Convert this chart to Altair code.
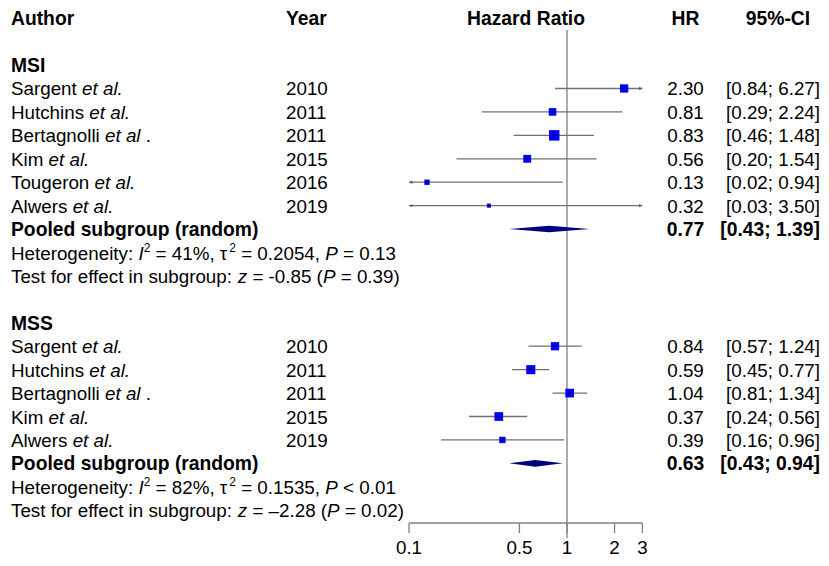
import numpy as np
import pandas as pd
import altair as alt

# ---------------- data ----------------
msi_authors = ["Sargent", "Hutchins", "Bertagnolli", "Kim", "Tougeron", "Alwers"]
msi_years = [2010, 2011, 2011, 2015, 2016, 2019]
msi_hr = [2.30, 0.81, 0.83, 0.56, 0.13, 0.32]
msi_lo = [0.84, 0.29, 0.46, 0.20, 0.02, 0.03]
msi_hi = [6.27, 2.24, 1.48, 1.54, 0.94, 3.50]
msi_w = [20.1, 16.7, 32.0, 18.0, 8.5, 4.8]

mss_authors = ["Sargent", "Hutchins", "Bertagnolli", "Kim", "Alwers"]
mss_years = [2010, 2011, 2011, 2015, 2019]
mss_hr = [0.84, 0.59, 1.04, 0.37, 0.39]
mss_lo = [0.57, 0.45, 0.81, 0.24, 0.16]
mss_hi = [1.24, 0.77, 1.34, 0.56, 0.96]
mss_w = [19.9, 24.0, 22.1, 22.1, 12.0]

pooled_hr = [0.77, 0.63]
pooled_lo = [0.43, 0.43]
pooled_hi = [1.39, 0.94]

het_i2 = ["41%", "82%"]
het_tau2 = ["0.2054", "0.1535"]
het_p = ["= 0.13", "< 0.01"]
test_z = ["-0.85", "\u20132.28"]
test_p = ["0.39", "0.02"]

tick_values = [0.1, 0.5, 1, 2, 3]
tick_labels = ["0.1", "0.5", "1", "2", "3"]
x_min, x_max = 0.1, 3.0

# ---------------- layout ----------------
FONT = "Liberation Sans"
FS = 18.8
FS_B = 19.3
SUP_FS = 12
CH_W, CH_H = 813, 550
ROW0, ROWH = 10.2, 23.43
X01, DEC = 401.0, 158.0  # chart px of 0.1, px per decade

y_dom = [-ROW0 / ROWH, (CH_H - ROW0) / ROWH]
x_dom = [10 ** (-1 - X01 / DEC), 10 ** (-1 + (CH_W - X01) / DEC)]
ysc = alt.Scale(domain=y_dom, reverse=True, nice=False, zero=False)
xsc = alt.Scale(type="log", domain=x_dom, nice=False)

COL_AUTHOR, COL_YEAR, COL_HRHEAD, COL_HR, COL_CIHEAD, COL_CI_RIGHT = 3, 278, 518, 677.5, 770, 812

W = {' ': 278, '!': 278, '%': 889, '(': 333, ')': 333, ',': 278, '-': 333, '.': 278,
     ':': 278, ';': 278, '=': 584, '<': 584, '[': 278, ']': 278, '\u2013': 556, '\u03c4': 500,
     'a': 556, 'b': 556, 'c': 500, 'd': 556, 'e': 556, 'f': 278, 'g': 556, 'h': 556, 'i': 222,
     'j': 222, 'k': 500, 'l': 222, 'm': 833, 'n': 556, 'o': 556, 'p': 556, 'q': 556, 'r': 333,
     's': 500, 't': 278, 'u': 556, 'v': 500, 'w': 722, 'x': 500, 'y': 500, 'z': 500,
     'A': 667, 'B': 667, 'C': 722, 'D': 722, 'E': 667, 'F': 611, 'G': 778, 'H': 722, 'I': 278,
     'J': 500, 'K': 667, 'L': 556, 'M': 833, 'N': 722, 'O': 778, 'P': 667, 'Q': 778, 'R': 722,
     'S': 667, 'T': 611, 'U': 722, 'V': 667, 'W': 944, 'X': 667, 'Y': 667, 'Z': 611}
KERN = {("T", "o"): -111, ("T", "e"): -111, ("T", "a"): -111}


def tw(s, fs):
    u = sum(W.get(c, 556) for c in s)
    u += sum(KERN.get((a, b), 0) for a, b in zip(s, s[1:]))
    return u * fs / 1000.0


segs = {"n": [], "it": [], "sup": [], "b": [], "bc": [], "nc": [], "br": [], "nr": []}


def place(row, parts, x0=COL_AUTHOR):
    x = x0
    for text, style in parts:
        fs = SUP_FS if style == "sup" else FS
        lead = len(text) - len(text.lstrip(" "))
        segs[style].append(dict(row=row, x=x + lead * W[' '] * fs / 1000.0, text=text.strip(" ")))
        x += tw(text, fs)


# headers
segs["b"] += [dict(row=0, x=COL_AUTHOR, text="Author"), dict(row=0, x=COL_YEAR, text="Year")]
segs["bc"] += [dict(row=0, x=COL_HRHEAD, text="Hazard Ratio"), dict(row=0, x=COL_HR, text="HR"),
               dict(row=0, x=COL_CIHEAD, text="95%-CI")]

study_rows = []
pooled_rows = []
groups = [("MSI", msi_authors, msi_years, msi_hr, msi_lo, msi_hi, msi_w, 2),
          ("MSS", mss_authors, mss_years, mss_hr, mss_lo, mss_hi, mss_w, 13)]
for gi, (gname, au, yr, hr, lo, hi, w, r0) in enumerate(groups):
    segs["b"].append(dict(row=r0, x=COL_AUTHOR, text=gname))
    for k in range(len(au)):
        row = r0 + 1 + k
        if au[k] == "Bertagnolli":
            place(row, [(au[k] + " ", "n"), ("et al", "it"), (" .", "n")])
        else:
            place(row, [(au[k] + " ", "n"), ("et al.", "it")])
        segs["n"].append(dict(row=row, x=COL_YEAR, text=str(yr[k])))
        segs["nc"].append(dict(row=row, x=COL_HR, text=f"{hr[k]:.2f}"))
        segs["nr"].append(dict(row=row, x=COL_CI_RIGHT, text=f"[{lo[k]:.2f}; {hi[k]:.2f}]"))
        study_rows.append(dict(row=row, hr=hr[k], lo=max(lo[k], x_min), hi=min(hi[k], x_max),
                               w=w[k], la=lo[k] < x_min, ra=hi[k] > x_max))
    prow = r0 + 1 + len(au)
    segs["b"].append(dict(row=prow, x=COL_AUTHOR, text="Pooled subgroup (random)"))
    segs["bc"].append(dict(row=prow, x=COL_HR, text=f"{pooled_hr[gi]:.2f}"))
    segs["br"].append(dict(row=prow, x=COL_CI_RIGHT, text=f"[{pooled_lo[gi]:.2f}; {pooled_hi[gi]:.2f}]"))
    pooled_rows.append(dict(row=prow, g=gname, lo=pooled_lo[gi], hr=pooled_hr[gi], hi=pooled_hi[gi]))
    place(prow + 1, [("Heterogeneity: ", "n"), ("I", "it"), ("2", "sup"),
                     (f" = {het_i2[gi]}, \u03c4", "n"), ("2", "sup"),
                     (f" = {het_tau2[gi]}, ", "n"), ("P", "it"), (f" {het_p[gi]}", "n")])
    place(prow + 2, [("Test for effect in subgroup: ", "n"), ("z", "it"),
                     (f" = {test_z[gi]} (", "n"), ("P", "it"), (f" = {test_p[gi]})", "n")])

studies = pd.DataFrame(study_rows)
H = 3.3 / ROWH
dia = []
for p in pooled_rows:
    dia += [dict(g=p["g"], x=p["lo"], y1=p["row"], y2=p["row"]),
            dict(g=p["g"], x=p["hr"], y1=p["row"] - H, y2=p["row"] + H),
            dict(g=p["g"], x=p["hi"], y1=p["row"], y2=p["row"])]
dia = pd.DataFrame(dia)

AX_ROW = (515 - ROW0) / ROWH
TICK_ROW = (525 - ROW0) / ROWH
LAB_ROW = (539.2 - ROW0) / ROWH
ref = pd.DataFrame([dict(x=1.0, y1=(22 - ROW0) / ROWH, y2=(530 - ROW0) / ROWH)])
axis_df = pd.DataFrame([dict(x1=x_min, x2=x_max, row=AX_ROW)])
ticks_df = pd.DataFrame(dict(x=tick_values, y1=AX_ROW, y2=TICK_ROW))
tlab_df = pd.DataFrame(dict(x=tick_values, text=tick_labels, row=LAB_ROW))

GRAY = "#808080"
Y = lambda f: alt.Y(f, scale=ysc, axis=None)
X = lambda f: alt.X(f, scale=xsc, axis=None)

layers = []
layers.append(alt.Chart(ref).mark_rule(color=GRAY, strokeWidth=1.3).encode(x=X("x:Q"), y=Y("y1:Q"), y2="y2:Q"))
layers.append(alt.Chart(axis_df).mark_rule(color=GRAY, strokeWidth=1.3).encode(x=X("x1:Q"), x2="x2:Q", y=Y("row:Q")))
layers.append(alt.Chart(ticks_df).mark_rule(color=GRAY, strokeWidth=1.3).encode(x=X("x:Q"), y=Y("y1:Q"), y2="y2:Q"))
layers.append(alt.Chart(tlab_df).mark_text(font=FONT, fontSize=FS, align="center", baseline="middle", dy=1, color="black")
              .encode(x=X("x:Q"), y=Y("row:Q"), text="text:N"))
layers.append(alt.Chart(studies).mark_rule(color="#707070", strokeWidth=1.3).encode(x=X("lo:Q"), x2="hi:Q", y=Y("row:Q")))
layers.append(alt.Chart(studies).transform_filter("datum.la").mark_point(
    shape="M0,0L2,-1L2,1Z", filled=True, size=12, color="#606060", opacity=1).encode(x=X("lo:Q"), y=Y("row:Q")))
layers.append(alt.Chart(studies).transform_filter("datum.ra").mark_point(
    shape="M0,0L-2,-1L-2,1Z", filled=True, size=12, color="#606060", opacity=1).encode(x=X("hi:Q"), y=Y("row:Q")))
layers.append(alt.Chart(studies).mark_square(color="#0000ff", opacity=1).encode(
    x=X("hr:Q"), y=Y("row:Q"),
    size=alt.Size("w:Q", scale=alt.Scale(domain=[0, 32], range=[0, 110]), legend=None)))
layers.append(alt.Chart(studies).mark_point(shape="M-1,0L1,0M0,-1L0,1", filled=False, size=12,
                                            color="#000033", strokeWidth=0.8, opacity=1)
              .encode(x=X("hr:Q"), y=Y("row:Q")))
layers.append(alt.Chart(dia).mark_area(color="#000080", opacity=1).encode(
    x=X("x:Q"), y=Y("y1:Q"), y2="y2:Q", detail="g:N"))


def text_layer(rows, weight="normal", style="normal", size=FS, align="left", dy=1):
    df = pd.DataFrame(rows)
    return alt.Chart(df).mark_text(font=FONT, fontSize=size, fontWeight=weight, fontStyle=style,
                                   align=align, baseline="middle", dy=dy, color="black").encode(
        x=alt.X("x:Q", scale=None, axis=None), y=Y("row:Q"), text="text:N")


layers.append(text_layer(segs["n"]))
layers.append(text_layer(segs["it"], style="italic"))
layers.append(text_layer(segs["sup"], size=SUP_FS, dy=-5))
layers.append(text_layer(segs["b"], weight="bold", size=FS_B))
layers.append(text_layer(segs["bc"], weight="bold", size=FS_B, align="center"))
layers.append(text_layer(segs["br"], weight="bold", size=FS_B, align="right"))
layers.append(text_layer(segs["nc"], align="center"))
layers.append(text_layer(segs["nr"], align="right"))

chart = alt.layer(*layers).resolve_scale(x="independent").properties(
    width=CH_W, height=CH_H, autosize=alt.AutoSizeParams(type="none"), padding=0,
    background="white"
).configure_view(strokeWidth=0, stroke=None)

chart.save("out.html", embed_options={"renderer": "svg", "actions": False})
